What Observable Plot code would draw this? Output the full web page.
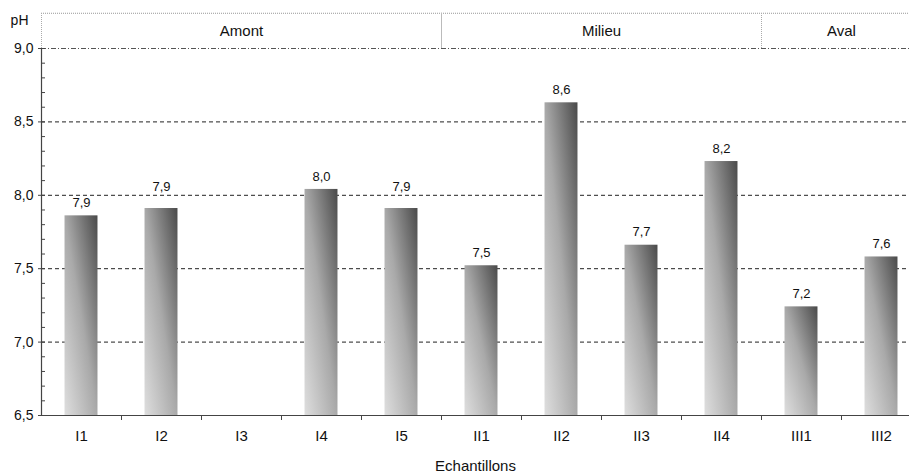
<!DOCTYPE html>
<html>
<head>
<meta charset="utf-8">
<script src="https://cdn.jsdelivr.net/npm/d3@7"></script>
<script src="https://cdn.jsdelivr.net/npm/@observablehq/plot@0.6"></script>
<style>
  html, body { margin: 0; padding: 0; background: #fff; }
  #chart { width: 909px; height: 474px; overflow: hidden; }
  #chart svg { max-width: none !important; width: 921px; height: 474px; }
</style>
</head>
<body>
<div id="chart"></div>
<script>
// ---- data ----
const categories = ["I1", "I2", "I3", "I4", "I5", "II1", "II2", "II3", "II4", "III1", "III2"];
const phValues   = [7.86, 7.91, null, 8.04, 7.91, 7.52, 8.63, 7.66, 8.23, 7.24, 7.58];
const groupNames = ["Amont", "Milieu", "Aval"];
const groupSizes = [5, 4, 2];
const yTicks     = [6.5, 7.0, 7.5, 8.0, 8.5, 9.0];
const gridValues = [7.0, 7.5, 8.0, 8.5];
const yMin = 6.5, yMax = 9.0, headerTop = 9.24;

// ---- derived tables ----
const bars = categories.map((c, i) => ({cat: c, i, ph: phValues[i]})).filter(d => d.ph != null);
let acc = 0;
const groups = groupNames.map((name, k) => {
  const start = acc; acc += groupSizes[k];
  return {name, start, end: acc};
});
const fmt = v => v.toFixed(1).replace(".", ",");
const minorTicks = d3.range(65, 91).map(v => v / 10);
const half = 0.206;
// a value label that would sit on a gridline is lifted above it
const nearGrid = d => gridValues.some(g => Math.abs((d.ph + 0.095) - g) < 0.03);

const font = "'Liberation Sans', Arial, sans-serif";

const chart = Plot.plot({
  width: 921,
  height: 474,
  marginLeft: 41,
  marginRight: 0,
  marginTop: 48,
  marginBottom: 59,
  style: {fontFamily: font, background: "#fff", color: "#111", overflow: "visible", maxWidth: "none"},
  x: {type: "linear", domain: [0, categories.length]},
  y: {domain: [yMin, yMax]},
  marks: [
    // header band
    Plot.ruleY([headerTop], {stroke: "#999", strokeDasharray: "1,1"}),
    Plot.ruleX([0, groups[2].start], {y1: yMax, y2: headerTop, stroke: "#aaa", strokeDasharray: "1,1"}),
    Plot.ruleX([groups[1].start], {y1: yMax, y2: headerTop, stroke: "#bbb"}),
    Plot.text(groups, {x: d => (d.start + d.end) / 2, y: (yMax + headerTop) / 2, text: "name", fontSize: 15, fill: "#111"}),
    // gridlines
    Plot.ruleY(gridValues, {stroke: "#222", strokeDasharray: "4,3"}),
    Plot.ruleY([yMax], {stroke: "#555", strokeDasharray: "5,2,1,2"}),
    // bars
    Plot.rect(bars, {x1: d => d.i + 0.5 - half, x2: d => d.i + 0.5 + half, y1: yMin, y2: "ph", fill: "url(#barGrad)"}),
    Plot.text(bars.filter(d => !nearGrid(d)), {x: d => d.i + 0.5, y: "ph", text: d => fmt(d.ph), dy: -13, fontSize: 13, fill: "#111"}),
    Plot.text(bars.filter(nearGrid), {x: d => d.i + 0.5, y: "ph", text: d => fmt(d.ph), dy: -22, fontSize: 13, fill: "#111"}),
    // axes
    Plot.ruleX([0], {y1: yMin, y2: yMax, stroke: "#444", strokeWidth: 1.2}),
    Plot.ruleY([yMin], {stroke: "#444", strokeWidth: 1.2}),
    Plot.axisY({ticks: minorTicks, tickSize: -4, tickFormat: () => "", stroke: "#444", label: null}),
    Plot.axisY({ticks: yTicks, tickSize: 3, tickPadding: 5, tickFormat: fmt, fontSize: 14, stroke: "#444", fill: "#111", label: null}),
    Plot.axisX({ticks: d3.range(1, categories.length + 1), tickSize: 5, tickFormat: () => "", stroke: "#444", label: null}),
    Plot.axisX({ticks: categories.map((c, i) => i + 0.5), tickSize: 0, tickPadding: 15, tickFormat: v => categories[Math.floor(v)], fontSize: 15, fill: "#111", label: null}),
    Plot.text(["Echantillons"], {frameAnchor: "bottom", dy: 55, dx: -6, fontSize: 15, fill: "#111"}),
    Plot.text(["pH"], {x: 0, y: headerTop - 0.05, textAnchor: "end", dx: -13, fontSize: 14, fill: "#111"})
  ]
});

// gradient definition for the bars
const svg = d3.select(chart);
const defs = svg.insert("defs", ":first-child");
const grad = defs.append("linearGradient").attr("id", "barGrad")
  .attr("x1", 0).attr("y1", 1).attr("x2", 1).attr("y2", 0);
grad.append("stop").attr("offset", "0%").attr("stop-color", "#dedede");
grad.append("stop").attr("offset", "50%").attr("stop-color", "#a9a9a9");
grad.append("stop").attr("offset", "100%").attr("stop-color", "#4a4a4a");

document.getElementById("chart").appendChild(chart);
</script>
</body>
</html>
